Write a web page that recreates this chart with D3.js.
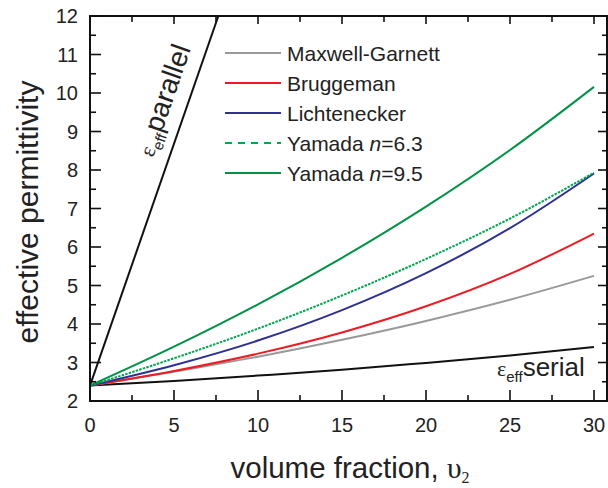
<!DOCTYPE html>
<html><head><meta charset="utf-8">
<script src="https://cdn.jsdelivr.net/npm/d3@7"></script>
<style>body{margin:0;background:#fff}</style>
</head><body><svg id="c" width="608" height="488"></svg>
<script>
// ---- data ----
const volumeFraction = [0, 5, 10, 15, 20, 25, 30];
const maxwellGarnett = [2.40, 2.76, 3.15, 3.59, 4.08, 4.63, 5.25];
const bruggeman      = [2.40, 2.78, 3.23, 3.78, 4.46, 5.30, 6.35];
const lichtenecker   = [2.40, 2.93, 3.57, 4.36, 5.32, 6.49, 7.91];
const yamada63       = [2.40, 3.11, 3.88, 4.74, 5.69, 6.74, 7.93];
const yamada95       = [2.40, 3.41, 4.51, 5.72, 7.05, 8.52, 10.16];
const serialBound    = [2.40, 2.52, 2.66, 2.81, 2.99, 3.18, 3.40];
const parallelX      = [0, 7.64];
const parallelY      = [2.40, 12.0];
const xTicks = [0, 5, 10, 15, 20, 25, 30];
const yTicks = [2, 3, 4, 5, 6, 7, 8, 9, 10, 11, 12];
const legendNames = ["Maxwell-Garnett", "Bruggeman", "Lichtenecker", "Yamada n=6.3", "Yamada n=9.5"];

const svg = d3.select("#c");
const L = 90, R = 607, T = 16, B = 401;
const x = d3.scaleLinear().domain([0, 30 * (R - L) / 504]).range([L, R]);
const y = d3.scaleLinear().domain([2, 12]).range([B, T]);

svg.append("defs").append("clipPath").attr("id", "clip")
  .append("rect").attr("x", L).attr("y", T).attr("width", R - L).attr("height", B - T);

const series = [
  {name: legendNames[0], vals: maxwellGarnett, color: "#999999", dash: null},
  {name: legendNames[1], vals: bruggeman, color: "#ed1c24", dash: null},
  {name: legendNames[2], vals: lichtenecker, color: "#2e3192", dash: null},
  {name: legendNames[3], vals: yamada63, color: "#00a651", dash: "2.5,1.2"},
  {name: legendNames[4], vals: yamada95, color: "#009245", dash: null}
];

const line = d3.line().x(d => x(d[0])).y(d => y(d[1])).curve(d3.curveMonotoneX);
const g = svg.append("g").attr("clip-path", "url(#clip)");

// bounds
g.append("path").datum(volumeFraction.map((v, i) => [v, serialBound[i]]))
  .attr("d", line).attr("fill", "none").attr("stroke", "#111").attr("stroke-width", 2);
g.append("path").datum(parallelX.map((v, i) => [v, parallelY[i]]))
  .attr("d", d3.line().x(d => x(d[0])).y(d => y(d[1]))).attr("fill", "none")
  .attr("stroke", "#111").attr("stroke-width", 2);

series.forEach(s => {
  g.append("path").datum(volumeFraction.map((v, i) => [v, s.vals[i]]))
    .attr("d", line).attr("fill", "none").attr("stroke", s.color)
    .attr("stroke-width", 2).attr("stroke-dasharray", s.dash);
});

// frame
svg.append("rect").attr("x", L).attr("y", T).attr("width", R - L).attr("height", B - T)
  .attr("fill", "none").attr("stroke", "#111").attr("stroke-width", 2);

// ticks
const xMinor = d3.range(2.5, 30.1, 5);
const yMinor = d3.range(2.5, 12, 1);
const tk = svg.append("g").attr("stroke", "#111").attr("stroke-width", 1.6);
xTicks.forEach(v => {
  tk.append("line").attr("x1", x(v)).attr("x2", x(v)).attr("y1", B).attr("y2", B - 11);
  tk.append("line").attr("x1", x(v)).attr("x2", x(v)).attr("y1", T).attr("y2", T + 8);
});
xMinor.forEach(v => {
  tk.append("line").attr("x1", x(v)).attr("x2", x(v)).attr("y1", B).attr("y2", B - 6);
  tk.append("line").attr("x1", x(v)).attr("x2", x(v)).attr("y1", T).attr("y2", T + 6);
});
yTicks.forEach(v => {
  tk.append("line").attr("x1", L).attr("x2", L + 11).attr("y1", y(v)).attr("y2", y(v));
  tk.append("line").attr("x1", R).attr("x2", R - 9).attr("y1", y(v)).attr("y2", y(v));
});
yMinor.forEach(v => {
  tk.append("line").attr("x1", L).attr("x2", L + 6).attr("y1", y(v)).attr("y2", y(v));
  tk.append("line").attr("x1", R).attr("x2", R - 5).attr("y1", y(v)).attr("y2", y(v));
});

const font = "Liberation Sans, Arial, sans-serif";
// tick labels
svg.append("g").selectAll("text").data(xTicks).join("text")
  .attr("x", d => x(d)).attr("y", 432).attr("text-anchor", "middle")
  .attr("font-family", font).attr("font-size", 20).attr("fill", "#222").text(d => d);
svg.append("g").selectAll("text").data(yTicks).join("text")
  .attr("x", 78).attr("y", d => y(d) + 7).attr("text-anchor", "end")
  .attr("font-family", font).attr("font-size", 20).attr("fill", "#222").text(d => d);

// axis titles
const xt = svg.append("text").attr("x", 350).attr("y", 478).attr("text-anchor", "middle")
  .attr("font-family", font).attr("font-size", 29.5).attr("fill", "#222");
xt.append("tspan").text("volume fraction, ");
xt.append("tspan").attr("font-family", "Liberation Serif, serif").text("υ");
xt.append("tspan").attr("font-family", "Liberation Serif, serif").attr("font-size", 16).attr("dy", 5).text("2");

svg.append("text").attr("transform", "translate(38,212) rotate(-90)").attr("text-anchor", "middle")
  .attr("font-family", font).attr("font-size", 30).attr("fill", "#222").text("effective permittivity");

// legend
const lg = svg.append("g");
series.forEach((s, i) => {
  const yy = 53 + i * 30;
  lg.append("line").attr("x1", 225).attr("x2", 281).attr("y1", yy).attr("y2", yy)
    .attr("stroke", s.color).attr("stroke-width", 2)
    .attr("stroke-dasharray", s.dash ? "7,6" : null);
  const t = lg.append("text").attr("x", 287).attr("y", yy + 7.5)
    .attr("font-family", font).attr("font-size", 21).attr("fill", "#222");
  const m = s.name.match(/^(Yamada )n(=.*)$/);
  if (m) {
    t.append("tspan").text(m[1]);
    t.append("tspan").attr("font-style", "italic").text("n");
    t.append("tspan").text(m[2]);
  } else t.text(s.name);
});

// curve labels
const ang = Math.atan2(y(parallelY[1]) - y(parallelY[0]), x(parallelX[1]) - x(parallelX[0])) * 180 / Math.PI;
const pt = svg.append("text")
  .attr("transform", `translate(153,158) rotate(${ang})`)
  .attr("font-family", font).attr("font-size", 28).attr("fill", "#222");
pt.append("tspan").attr("font-family", "Liberation Serif, serif").attr("font-size", 22).text("ε");
pt.append("tspan").attr("font-size", 15).attr("dy", 6).text("eff");
pt.append("tspan").attr("dy", -6).text("parallel");

const st = svg.append("text").attr("x", 497).attr("y", 376)
  .attr("font-family", font).attr("font-size", 26).attr("fill", "#222");
st.append("tspan").attr("font-family", "Liberation Serif, serif").attr("font-size", 22).text("ε");
st.append("tspan").attr("font-size", 15).attr("dy", 6).text("eff");
st.append("tspan").attr("dy", -6).text("serial");
</script>
</body></html>
